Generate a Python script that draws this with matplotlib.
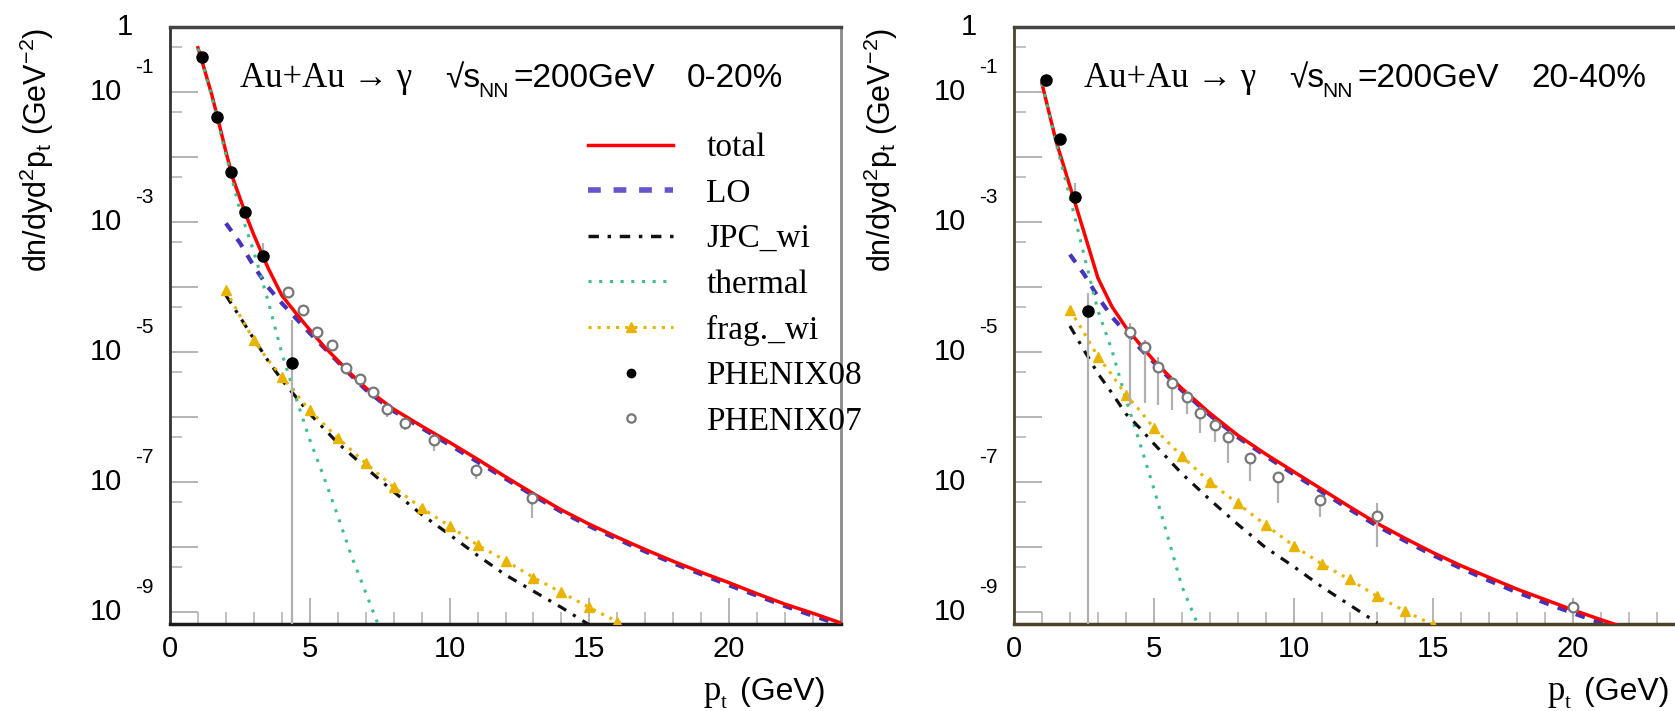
import numpy as np
import matplotlib.pyplot as plt
import matplotlib.transforms as mtransforms
from matplotlib.lines import Line2D
from matplotlib.ticker import LogLocator, MultipleLocator, NullFormatter

# values, stored as log10 of dn/dyd^2pt (GeV^-2)

# ---- 0-20% ----
pt_tot_a = [1.0, 1.25, 1.5, 1.75, 2.0, 2.25, 2.5, 2.75, 3.0, 3.5, 4.0, 4.5, 5.0, 5.5, 6.0, 6.5,
            7.0, 7.5, 8.0, 9.0, 10, 11, 12, 13, 14, 15, 16, 17, 18, 19, 20, 21, 22, 23, 24]
lg_tot_a = [-0.32, -0.68, -1.05, -1.48, -1.92, -2.33, -2.63, -2.93, -3.2, -3.7, -4.13, -4.4,
            -4.66, -4.91, -5.13, -5.35, -5.55, -5.72, -5.88, -6.14, -6.39, -6.65, -6.92, -7.18,
            -7.43, -7.65, -7.85, -8.04, -8.22, -8.39, -8.55, -8.72, -8.88, -9.02, -9.17]
pt_lo_a = [2.0, 2.5, 3.0, 3.5, 4.0, 4.5, 5.0, 5.5, 6.0, 6.5, 7.0, 7.5, 8.0, 9.0, 10, 11, 12, 13,
           14, 15, 16, 17, 18, 19, 20, 21, 22, 23, 24]
lg_lo_a = [-3.02, -3.32, -3.68, -4.0, -4.25, -4.48, -4.71, -4.93, -5.15, -5.37, -5.58, -5.75,
           -5.91, -6.17, -6.43, -6.69, -6.95, -7.21, -7.46, -7.68, -7.88, -8.07, -8.25, -8.42,
           -8.59, -8.75, -8.91, -9.06, -9.2]
pt_th_a = [1.0, 1.5, 2.0, 2.5, 3.0, 3.5, 4.0, 4.5, 5.0, 5.5, 6.0, 6.5, 7.0, 7.45]
lg_th_a = [-0.33, -1.08, -1.97, -2.82, -3.46, -4.2, -5.02, -5.7, -6.35, -6.92, -7.52, -8.15,
           -8.7, -9.2]
pt_jpc_a = [2.0, 2.5, 3.0, 3.5, 4.0, 5.0, 6.0, 7.0, 8.0, 9.0, 10, 11, 12, 13, 14, 15]
lg_jpc_a = [-4.13, -4.46, -4.8, -5.13, -5.43, -5.95, -6.4, -6.78, -7.15, -7.5, -7.81, -8.13,
            -8.43, -8.68, -8.93, -9.2]
pt_fr_a = [2.0, 2.5, 3.0, 3.5, 4.0, 5.0, 6.0, 7.0, 8.0, 9.0, 10, 11, 12, 13, 14, 15, 16, 16.3]
lg_fr_a = [-4.05, -4.44, -4.82, -5.12, -5.38, -5.9, -6.32, -6.71, -7.08, -7.4, -7.68, -7.97,
           -8.21, -8.47, -8.7, -8.93, -9.15, -9.2]

pt_p08_a = [1.14, 1.68, 2.18, 2.68, 3.32, 4.36]
lg_p08_a = [-0.46, -1.38, -2.23, -2.85, -3.52, -5.17]
hi_p08_a = [-0.42, -1.34, -2.19, -2.81, -3.32, -4.51]
lo_p08_a = [-0.5, -1.42, -2.27, -2.89, -3.56, -12.0]

pt_p07_a = [4.21, 4.75, 5.25, 5.79, 6.3, 6.8, 7.25, 7.75, 8.4, 9.45, 10.96, 12.95]
lg_p07_a = [-4.07, -4.35, -4.7, -4.89, -5.25, -5.42, -5.62, -5.88, -6.1, -6.35, -6.82, -7.25]
hi_p07_a = [-4.02, -4.3, -4.65, -4.84, -5.2, -5.37, -5.57, -5.83, -6.05, -6.3, -6.77, -7.2]
lo_p07_a = [-4.15, -4.42, -4.77, -4.96, -5.33, -5.5, -5.72, -6.0, -6.2, -6.52, -6.95, -7.55]

# ---- 20-40% ----
pt_tot_b = [1.0, 1.5, 2.0, 2.5, 3.0, 3.5, 4.0, 4.5, 5.0, 5.5, 6.0, 7.0, 8.0, 9.0, 10, 11, 12,
            13, 14, 15, 16, 17, 18, 19, 20, 21, 21.7]
lg_tot_b = [-0.87, -1.75, -2.45, -3.15, -3.86, -4.3, -4.62, -4.88, -5.13, -5.35, -5.56, -5.94,
            -6.28, -6.57, -6.84, -7.11, -7.38, -7.64, -7.87, -8.09, -8.29, -8.47, -8.65, -8.81,
            -8.97, -9.12, -9.22]
pt_lo_b = [2.0, 2.5, 3.0, 3.5, 4.0, 4.5, 5.0, 5.5, 6.0, 7.0, 8.0, 9.0, 10, 11, 12, 13, 14, 15,
           16, 17, 18, 19, 20, 21, 21.7]
lg_lo_b = [-3.5, -3.8, -4.15, -4.46, -4.7, -4.94, -5.16, -5.38, -5.59, -5.97, -6.31, -6.6,
           -6.88, -7.15, -7.42, -7.68, -7.91, -8.13, -8.33, -8.52, -8.7, -8.86, -9.02, -9.17,
           -9.27]
pt_th_b = [1.0, 1.5, 2.0, 2.5, 3.0, 3.5, 4.0, 4.5, 5.0, 5.5, 6.0, 6.58]
lg_th_b = [-0.87, -1.78, -2.62, -3.5, -4.36, -4.97, -5.72, -6.4, -7.1, -7.84, -8.6, -9.2]
pt_jpc_b = [2.0, 2.5, 3.0, 3.5, 4.0, 4.5, 5.0, 6.0, 7.0, 8.0, 9.0, 10, 11, 12, 13]
lg_jpc_b = [-4.6, -4.97, -5.33, -5.63, -5.95, -6.17, -6.41, -6.87, -7.27, -7.65, -8.01, -8.3,
            -8.61, -8.89, -9.17]
pt_fr_b = [2.0, 2.5, 3.0, 3.5, 4.0, 4.5, 5.0, 6.0, 7.0, 8.0, 9.0, 10, 11, 12, 13, 14, 15]
lg_fr_b = [-4.35, -4.7, -5.07, -5.35, -5.66, -5.9, -6.17, -6.6, -7.0, -7.33, -7.66, -7.98,
           -8.26, -8.5, -8.76, -8.99, -9.2]

pt_p08_b = [1.14, 1.65, 2.18, 2.65]
lg_p08_b = [-0.82, -1.73, -2.61, -4.37]
hi_p08_b = [-0.75, -1.67, -2.4, -4.09]
lo_p08_b = [-0.88, -1.79, -2.68, -12.0]

pt_p07_b = [4.15, 4.69, 5.15, 5.65, 6.2, 6.65, 7.19, 7.66, 8.44, 9.45, 10.95, 13.0, 20.0]
lg_p07_b = [-4.69, -4.92, -5.23, -5.48, -5.69, -5.94, -6.12, -6.31, -6.63, -6.92, -7.27,
            -7.53, -8.92]
hi_p07_b = [-4.55, -4.82, -5.08, -5.38, -5.6, -5.88, -6.05, -6.25, -6.57, -6.85, -7.2, -7.32,
            -8.8]
lo_p07_b = [-5.82, -5.78, -5.82, -5.89, -5.95, -6.25, -6.38, -6.71, -6.98, -7.32, -7.54, -8.0,
            -9.1]

legend_labels = ["total", "LO", "JPC_wi", "thermal", "frag._wi", "PHENIX08", "PHENIX07"]
y_label_exps = [0, -1, -3, -5, -7, -9]

SANS = ["Liberation Sans", "DejaVu Sans"]
SERIF = ["Liberation Serif", "DejaVu Serif"]
W, H = 1675, 711

c_tot, c_lo, c_jpc, c_th, c_fr = "#ff0000", "#4433bb", "#111111", "#3dbf8a", "#e8b400"
ls_lo = (0, (2.3, 2.3))
ls_jpc = (0, (3, 2.5, 1, 2.5))
ls_th = (0, (1, 2.5))
ls_fr = (0, (1, 2))

fig = plt.figure(figsize=(W / 100, H / 100), dpi=100)
fig.patch.set_facecolor("white")


def T(x, y, s, **kw):
    return fig.text(x / W, 1 - y / H, s, **kw)


def L(v):
    return 10.0 ** np.asarray(v, dtype=float)


def draw_panel(ax, tot, lo, jpc, th, fr, p08, p07):
    ax.plot(lo[0], L(lo[1]), color=c_lo, lw=3, ls=ls_lo, zorder=2)
    ax.plot(tot[0], L(tot[1]), color=c_tot, lw=2.5, zorder=3)
    ax.plot(th[0], L(th[1]), color=c_th, lw=2.2, ls=ls_th, zorder=4)
    ax.plot(jpc[0], L(jpc[1]), color=c_jpc, lw=2.3, ls=ls_jpc, zorder=4)
    mk = [float(p).is_integer() for p in fr[0]]
    ax.plot(fr[0], L(fr[1]), color=c_fr, lw=2.2, ls=ls_fr, marker="^", ms=7,
            markevery=mk, zorder=4)

    for (x, v, hi, lo_), style in [(p07, dict(marker="o", ms=7, mfc="white", mec="#777777", mew=1.6)),
                                   (p08, dict(marker="o", ms=8, mfc="black", mec="black"))]:
        y = L(v)
        ax.errorbar(x, y, yerr=[y - L(lo_), L(hi) - y], fmt="none", ecolor="#b0b0b0",
                    elinewidth=1.6, capsize=0, zorder=5)
        ax.plot(x, y, ls="none", zorder=6, **style)

    ax.set_yscale("log")
    ax.set_xlim(0, 24)
    ax.set_ylim(10 ** -9.185, 1)
    ax.yaxis.set_major_locator(LogLocator(base=10, numticks=30))
    ax.yaxis.set_minor_locator(LogLocator(base=10, subs=(5.0,), numticks=30))
    ax.yaxis.set_major_formatter(NullFormatter())
    ax.yaxis.set_minor_formatter(NullFormatter())
    ax.xaxis.set_major_locator(MultipleLocator(5))
    ax.xaxis.set_minor_locator(MultipleLocator(1))
    ax.tick_params(axis="y", which="major", direction="in", length=20, width=1.4,
                   color="#b4b4b4", right=False)
    ax.tick_params(axis="y", which="minor", direction="in", length=8.6, width=1.4,
                   color="#c0c0c0", right=False)
    ax.tick_params(axis="x", which="major", direction="in", length=19, width=1.4,
                   color="#b4b4b4", top=False, pad=8, labelsize=21)
    ax.tick_params(axis="x", which="minor", direction="in", length=8.6, width=1.4,
                   color="#c0c0c0", top=False)
    for lab in ax.get_xticklabels():
        lab.set_family(SANS)

    tr = mtransforms.blended_transform_factory(ax.transAxes, ax.transData)
    tr_up = mtransforms.offset_copy(tr, fig=fig, x=0, y=24, units="dots")
    for e in y_label_exps:
        v = 10.0 ** e
        if e == 0:
            ax.text(-37 / 671, v, "1", transform=tr, ha="right", va="center",
                    fontsize=21, family=SANS)
        else:
            ax.text(-48 / 671, v, "10", transform=tr, ha="right", va="center",
                    fontsize=21, family=SANS)
            ax.text(-35 / 671, v, str(e), transform=tr_up, ha="left", va="center",
                    fontsize=15, family=SANS)


def panel_text(x0, cent):
    T(x0 + 70, 87, "Au+Au \u2192 \u03b3", fontsize=25, family=SERIF, va="baseline")
    T(x0 + 275, 87, "\u221as", fontsize=24, family=SANS, va="baseline")
    T(x0 + 308, 97, "NN", fontsize=15, family=SANS, va="baseline")
    T(x0 + 343, 87, "=200GeV", fontsize=24, family=SANS, va="baseline")
    T(x0 + 517, 87, cent, fontsize=24, family=SANS, va="baseline")
    T(x0 - 133, 28, r"dn/dyd$\mathregular{^2}$p$\mathregular{_t}$ (GeV$\mathregular{^{-2}}$)",
      rotation=90, ha="center", va="top", fontsize=22, family=SANS)
    T(x0 + 533, 700, "p", fontsize=25, family=SERIF, va="baseline")
    T(x0 + 551, 708, "t", fontsize=15, family=SERIF, va="baseline")
    T(x0 + 570, 700, "(GeV)", fontsize=23, family=SANS, va="baseline")


ax1 = fig.add_axes([170 / W, 1 - 624 / H, 671 / W, 597 / H])
ax2 = fig.add_axes([1014 / W, 1 - 624 / H, 671 / W, 597 / H])

draw_panel(ax1, (pt_tot_a, lg_tot_a), (pt_lo_a, lg_lo_a), (pt_jpc_a, lg_jpc_a),
           (pt_th_a, lg_th_a), (pt_fr_a, lg_fr_a),
           (pt_p08_a, lg_p08_a, hi_p08_a, lo_p08_a), (pt_p07_a, lg_p07_a, hi_p07_a, lo_p07_a))
draw_panel(ax2, (pt_tot_b, lg_tot_b), (pt_lo_b, lg_lo_b), (pt_jpc_b, lg_jpc_b),
           (pt_th_b, lg_th_b), (pt_fr_b, lg_fr_b),
           (pt_p08_b, lg_p08_b, hi_p08_b, lo_p08_b), (pt_p07_b, lg_p07_b, hi_p07_b, lo_p07_b))

panel_text(170, "0-20%")
panel_text(1014, "20-40%")

# spines
ax1.spines["left"].set(color="#333333", lw=2)
ax1.spines["top"].set(color="#444444", lw=2.5)
ax1.spines["bottom"].set(color="#1a1a1a", lw=2.5)
ax1.spines["right"].set(color="#8a8a8a", lw=2)
ax2.spines["left"].set(color="#4d4228", lw=2)
ax2.spines["top"].set(color="#444444", lw=2.5)
ax2.spines["bottom"].set(color="#4d4228", lw=2.5)
ax2.spines["right"].set_visible(False)

handles = [
    Line2D([], [], color=c_tot, lw=2.5),
    Line2D([], [], color="#6655cc", lw=4, ls=ls_lo),
    Line2D([], [], color=c_jpc, lw=2.5, ls=ls_jpc),
    Line2D([], [], color=c_th, lw=2.2, ls=ls_th),
    Line2D([], [], color=c_fr, lw=2.2, ls=ls_fr, marker="^", ms=7),
    Line2D([], [], ls="none", marker="o", ms=6, mfc="black", mec="black"),
    Line2D([], [], ls="none", marker="o", ms=6, mfc="white", mec="#777777", mew=1.6),
]
ax1.legend(handles, legend_labels, loc="upper left", bbox_to_anchor=(0.623, 0.823),
           frameon=False, prop={"family": SERIF, "size": 24}, handlelength=2.55,
           handletextpad=1.0, labelspacing=0.45, borderaxespad=0, borderpad=0, numpoints=1)

fig.savefig("out.png", dpi=100, facecolor="white")
